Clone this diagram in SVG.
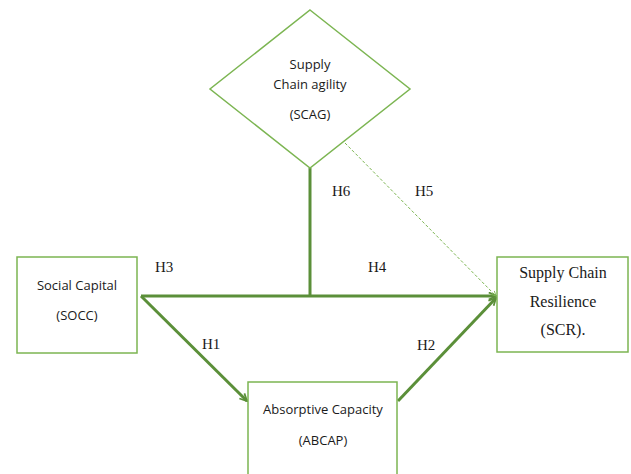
<svg xmlns="http://www.w3.org/2000/svg" width="631" height="474" viewBox="0 0 631 474">
<style>
.box{fill:#fff;stroke:#7cb552;stroke-width:1.5}
.sans{font-family:"Open Sans","Liberation Sans",sans-serif;font-size:13px;fill:#1a1a1a;text-anchor:middle}
.serif{font-family:"Liberation Serif",serif;font-size:15px;fill:#1a1a1a}
.thick{stroke:#5b8f39;stroke-width:3;fill:none}
.dash{stroke:#7cb552;stroke-width:1;stroke-dasharray:3,2;fill:none}
</style>
<defs>
<marker id="ah" viewBox="0 0 10 10" refX="9" refY="5" markerWidth="3" markerHeight="3" orient="auto" markerUnits="strokeWidth">
<path d="M1,1 L9,5 L1,9" fill="none" stroke="#5b8f39" stroke-width="2"/>
</marker>
<marker id="ah2" viewBox="0 0 10 10" refX="9" refY="5" markerWidth="6" markerHeight="6" orient="auto" markerUnits="strokeWidth">
<path d="M1,1 L9,5 L1,9" fill="none" stroke="#7cb552" stroke-width="1.5"/>
</marker>
</defs>
<g id="connectors">
<line class="thick" x1="310" y1="168" x2="310" y2="296"/>
<line class="thick" x1="141" y1="296" x2="496" y2="296" marker-end="url(#ah)"/>
<line class="thick" x1="141" y1="296" x2="247" y2="401" marker-end="url(#ah)"/>
<line class="thick" x1="398" y1="401" x2="496" y2="298" marker-end="url(#ah)"/>
<line class="dash" x1="345" y1="143" x2="496" y2="296" marker-end="url(#ah2)"/>
<text class="serif" x="155" y="272">H3</text>
<text class="serif" x="368" y="272">H4</text>
<text class="serif" x="332" y="196">H6</text>
<text class="serif" x="415" y="196">H5</text>
<text class="serif" x="202" y="349">H1</text>
<text class="serif" x="417" y="350">H2</text>
</g>
<g id="scag">
<polygon class="box" points="310,10 410,89 310,168 210,89"/>
<text class="sans" x="310" y="69">Supply</text>
<text class="sans" x="310" y="89">Chain agility</text>
<text class="sans" x="310" y="119">(SCAG)</text>
</g>
<g id="socc">
<rect class="box" x="17" y="257" width="120" height="96"/>
<text class="sans" x="77" y="290">Social Capital</text>
<text class="sans" x="77" y="320">(SOCC)</text>
</g>
<g id="scr">
<rect class="box" x="497" y="257" width="131" height="95"/>
<text class="serif" x="563" y="278" style="text-anchor:middle;font-size:16px">Supply Chain</text>
<text class="serif" x="563" y="307" style="text-anchor:middle;font-size:16px">Resilience</text>
<text class="serif" x="563" y="335" style="text-anchor:middle;font-size:16px">(SCR).</text>
</g>
<g id="abcap">
<rect class="box" x="248" y="382" width="149" height="100"/>
<text class="sans" x="323" y="414">Absorptive Capacity</text>
<text class="sans" x="323" y="445">(ABCAP)</text>
</g>
</svg>
